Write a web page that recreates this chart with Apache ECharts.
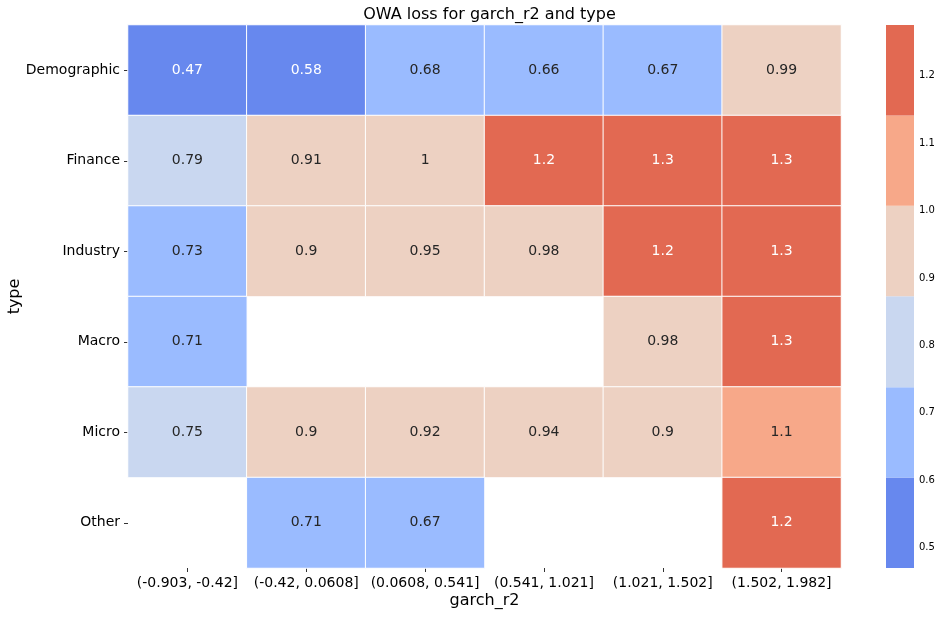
<!DOCTYPE html>
<html>
<head>
<meta charset="utf-8">
<script src="https://cdn.jsdelivr.net/npm/echarts@6/dist/echarts.min.js"></script>
<style>
  html, body { margin: 0; padding: 0; background: #fff; }
  #chart { width: 943px; height: 617px; }
</style>
</head>
<body>
<div id="chart"></div>
<script>
// Heatmap OWA loss par type et intervalle de garch_r2

const xCategories = ['(-0.903, -0.42]', '(-0.42, 0.0608]', '(0.0608, 0.541]', '(0.541, 1.021]', '(1.021, 1.502]', '(1.502, 1.982]'];
const yCategories = ['Demographic', 'Finance', 'Industry', 'Macro', 'Micro', 'Other'];

// une ligne par type, null = cellule vide
const demographicValues = [0.47, 0.58, 0.68, 0.66, 0.67, 0.99];
const financeValues     = [0.79, 0.91, 1.0, 1.2, 1.3, 1.3];
const industryValues    = [0.73, 0.9, 0.95, 0.98, 1.2, 1.3];
const macroValues       = [0.71, null, null, null, 0.98, 1.3];
const microValues       = [0.75, 0.9, 0.92, 0.94, 0.9, 1.1];
const otherValues       = [null, 0.71, 0.67, null, null, 1.2];

// barre de couleur (coolwarm, 6 niveaux)
const binEdges = [0.47, 0.604, 0.738, 0.873, 1.007, 1.141, 1.275];
const binColors = ['#6788ee', '#9abbff', '#c9d7f0', '#edd1c2', '#f7a889', '#e26952'];
const colorbarTicks = [0.5, 0.6, 0.7, 0.8, 0.9, 1.0, 1.1, 1.2];

const rows = [demographicValues, financeValues, industryValues, macroValues, microValues, otherValues];

function binIndex(v) {
    for (let i = 0; i < binColors.length; i++) {
        if (v < binEdges[i + 1]) return i;
    }
    return binColors.length - 1;
}

const heatData = [];
rows.forEach((row, yi) => {
    row.forEach((v, xi) => {
        if (v === null) return;
        const b = binIndex(v);
        heatData.push({
            value: [xi, yi, v],
            itemStyle: { color: binColors[b] },
            label: { color: (b === 0 || b === 5) ? '#ffffff' : '#262626' }
        });
    });
});

const binData = binColors.map((c, i) => [binEdges[i], binEdges[i + 1], i]);

const font = 'DejaVu Sans';

const option = {
    backgroundColor: '#ffffff',
    animation: false,
    textStyle: { fontFamily: font },
    title: {
        text: 'OWA loss for garch_r2 and type',
        left: 484.5,
        top: 2,
        textAlign: 'center',
        textStyle: { fontFamily: font, fontSize: 16, fontWeight: 'normal', color: '#000' }
    },
    grid: [
        { left: 128, top: 25, width: 713, height: 543, containLabel: false, outerBoundsMode: 'none' },
        { left: 886, top: 25, width: 28, height: 543, containLabel: false, outerBoundsMode: 'none' }
    ],
    xAxis: [
        {
            type: 'category',
            gridIndex: 0,
            data: xCategories,
            name: 'garch_r2',
            nameLocation: 'middle',
            nameGap: 25,
            nameMoveOverlap: false,
            nameTextStyle: { fontFamily: font, fontSize: 16, color: '#000' },
            axisLine: { show: false },
            axisTick: { show: true, alignWithLabel: true, length: 4, lineStyle: { color: '#333' } },
            axisLabel: { fontFamily: font, fontSize: 14, color: '#000', margin: 8, interval: 0 },
            splitLine: { show: false }
        },
        {
            type: 'value',
            gridIndex: 1,
            min: 0,
            max: 1,
            show: false
        }
    ],
    yAxis: [
        {
            type: 'category',
            gridIndex: 0,
            data: yCategories,
            inverse: true,
            name: 'type',
            nameLocation: 'middle',
            nameGap: 105,
            nameMoveOverlap: false,
            nameRotate: 90,
            nameTextStyle: { fontFamily: font, fontSize: 16, color: '#000' },
            axisLine: { show: false },
            axisTick: { show: true, alignWithLabel: true, length: 4, lineStyle: { color: '#333' } },
            axisLabel: { fontFamily: font, fontSize: 14, color: '#000', margin: 8, interval: 0 },
            splitLine: { show: false }
        },
        {
            type: 'value',
            gridIndex: 1,
            position: 'right',
            min: binEdges[0],
            max: binEdges[binEdges.length - 1],
            axisLine: { show: false },
            axisTick: { show: true, length: 3, customValues: colorbarTicks, lineStyle: { color: '#333' } },
            axisLabel: {
                fontFamily: font, fontSize: 10, color: '#000', margin: 5,
                customValues: colorbarTicks,
                formatter: v => v.toFixed(1)
            },
            splitLine: { show: false }
        }
    ],
    series: [
        {
            type: 'heatmap',
            xAxisIndex: 0,
            yAxisIndex: 0,
            data: heatData,
            label: {
                show: true,
                fontFamily: font,
                fontSize: 14,
                formatter: p => String(p.value[2])
            },
            itemStyle: { borderColor: '#ffffff', borderWidth: 1 },
            emphasis: { disabled: true }
        },
        {
            type: 'custom',
            xAxisIndex: 1,
            yAxisIndex: 1,
            data: binData,
            renderItem: function (params, api) {
                const p1 = api.coord([0, api.value(1)]);
                const p2 = api.coord([1, api.value(0)]);
                return {
                    type: 'rect',
                    shape: { x: p1[0], y: p1[1], width: p2[0] - p1[0], height: p2[1] - p1[1] },
                    style: { fill: binColors[api.value(2)] }
                };
            },
            silent: true
        }
    ]
};

const chart = echarts.init(document.getElementById('chart'));
chart.setOption(option);
</script>
</body>
</html>
